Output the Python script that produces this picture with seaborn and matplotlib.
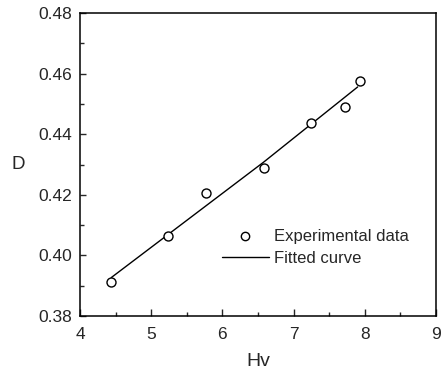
import matplotlib
matplotlib.use("Agg")
import matplotlib.pyplot as plt
import seaborn as sns
import pandas as pd
from matplotlib.ticker import MultipleLocator, FormatStrFormatter

sns.set_style("ticks")
plt.rcParams['font.family'] = ['Liberation Sans', 'DejaVu Sans']

# Experimental data
hv_exp = [4.44, 5.23, 5.77, 6.58, 7.24, 7.72, 7.93]
d_exp = [0.3913, 0.4065, 0.4206, 0.4288, 0.4437, 0.4490, 0.4574]
# Fitted curve
hv_fit = [4.44, 6.58, 7.90]
d_fit = [0.3927, 0.4308, 0.4556]

x_ticks = [4, 5, 6, 7, 8, 9]
y_ticks = [0.38, 0.40, 0.42, 0.44, 0.46, 0.48]

df_exp = pd.DataFrame({"Hv": hv_exp, "D": d_exp})
df_fit = pd.DataFrame({"Hv": hv_fit, "D": d_fit})

fig = plt.figure(figsize=(4.41, 3.69), dpi=100)
ax = fig.add_axes([0.1814, 0.1436, 0.8073, 0.8212])

sns.lineplot(data=df_fit, x="Hv", y="D", ax=ax, color="black", lw=1.0,
             label="Fitted curve", sort=True)
sns.scatterplot(data=df_exp, x="Hv", y="D", ax=ax, marker="o", s=42,
                facecolor="white", edgecolor="black", linewidth=1.0,
                label="Experimental data", zorder=3)

ax.set_xlim(4, 9)
ax.set_ylim(0.38, 0.48)
ax.set_xticks(x_ticks)
ax.set_yticks(y_ticks)
ax.yaxis.set_major_formatter(FormatStrFormatter('%.2f'))
ax.xaxis.set_minor_locator(MultipleLocator(0.5))
ax.yaxis.set_minor_locator(MultipleLocator(0.01))

for s in ax.spines.values():
    s.set_linewidth(1.1)
    s.set_color("black")

ax.tick_params(axis='x', which='major', direction='in', length=5, width=1,
               labelsize=12.5, pad=8, top=False)
ax.tick_params(axis='x', which='minor', direction='in', length=3, width=1, top=False)
ax.tick_params(axis='y', which='major', direction='in', length=4, width=1,
               labelsize=12.5, pad=6, right=False)
ax.tick_params(axis='y', which='minor', direction='in', length=3, width=1, right=False)

ax.set_xlabel("Hv", fontsize=14, labelpad=8)
ax.set_ylabel("D", fontsize=13.5, rotation=0, labelpad=14, va='center', ha='center')

handles, labels = ax.get_legend_handles_labels()
order = [labels.index("Experimental data"), labels.index("Fitted curve")]
leg = ax.legend([handles[i] for i in order], [labels[i] for i in order],
                loc="upper left", bbox_to_anchor=(0.38, 0.31), frameon=False,
                fontsize=12, handlelength=2.8, handletextpad=0.3,
                labelspacing=0.45, borderaxespad=0)
for h in leg.legend_handles:
    if hasattr(h, "set_sizes"):
        h.set_sizes([36])

fig.savefig("out.png", dpi=100)
